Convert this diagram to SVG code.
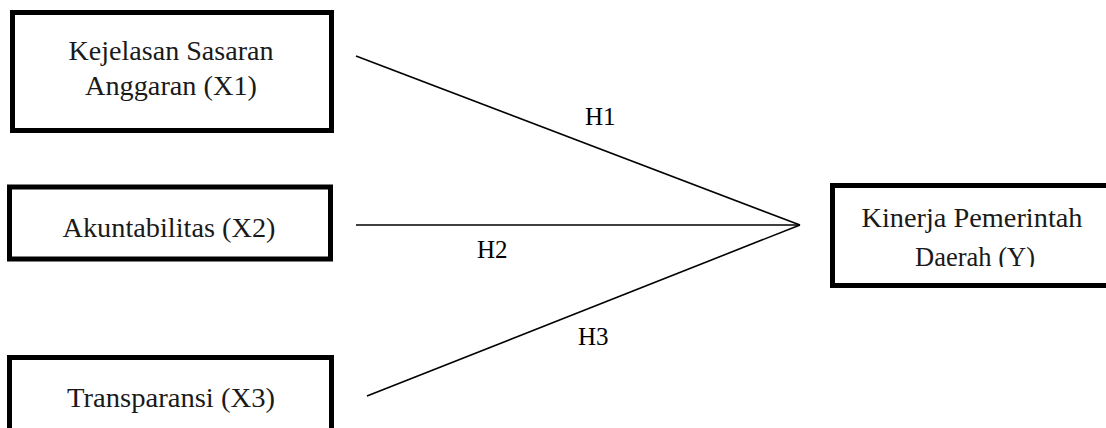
<svg xmlns="http://www.w3.org/2000/svg" width="1106" height="428" viewBox="0 0 1106 428">
<style>
.box{fill:#fff;stroke:#000;stroke-width:5}
.t{font-family:"Liberation Serif","Times New Roman",serif;font-size:28px;fill:#1a1a1a;text-anchor:middle}
.h{font-family:"Liberation Serif","Times New Roman",serif;font-size:25px;fill:#000}
.ln{stroke:#000;stroke-width:1.6;fill:none}
</style>
<defs>
<clipPath id="clipY"><rect x="830" y="180" width="276" height="87"/></clipPath>
</defs>
<rect width="1106" height="428" fill="#fff"/>
<g id="connectors">
<line class="ln" x1="356" y1="56" x2="800" y2="225"/>
<line class="ln" x1="356" y1="225" x2="800" y2="225"/>
<line class="ln" x1="367" y1="396" x2="800" y2="225"/>
<text class="h" x="585" y="125">H1</text>
<text class="h" x="477" y="258">H2</text>
<text class="h" x="578" y="345">H3</text>
</g>
<g id="x1">
<rect class="box" x="12.5" y="12.5" width="319" height="118"/>
<text class="t" x="171" y="60" textLength="205" lengthAdjust="spacingAndGlyphs">Kejelasan Sasaran</text>
<text class="t" x="171" y="95" textLength="172" lengthAdjust="spacingAndGlyphs">Anggaran (X1)</text>
</g>
<g id="x2">
<rect class="box" x="9.5" y="187" width="321" height="72"/>
<text class="t" x="169" y="237" textLength="213" lengthAdjust="spacingAndGlyphs">Akuntabilitas (X2)</text>
</g>
<g id="x3">
<rect class="box" x="9.5" y="357.5" width="322" height="80"/>
<text class="t" x="171" y="407" textLength="208" lengthAdjust="spacingAndGlyphs">Transparansi (X3)</text>
</g>
<g id="y">
<rect class="box" x="832.5" y="185.5" width="280" height="100"/>
<text class="t" x="972" y="227" textLength="221" lengthAdjust="spacingAndGlyphs">Kinerja Pemerintah</text>
<text class="t" x="975" y="266" textLength="120" lengthAdjust="spacingAndGlyphs" clip-path="url(#clipY)">Daerah (Y)</text>
</g>
</svg>
